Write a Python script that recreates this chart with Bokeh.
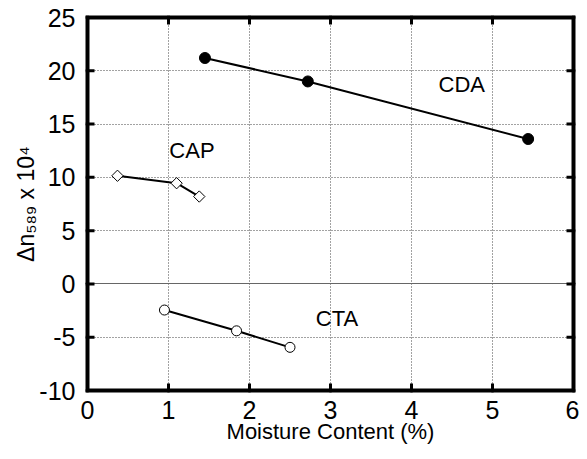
from bokeh.plotting import figure
from bokeh.models import FixedTicker, Range1d, ColumnDataSource
from bokeh.embed import file_html
from bokeh.resources import INLINE

# data
cda_x = [1.45, 2.72, 5.44]
cda_y = [21.2, 19.0, 13.6]
cap_x = [0.37, 1.10, 1.38]
cap_y = [10.15, 9.45, 8.2]
cta_x = [0.95, 1.84, 2.50]
cta_y = [-2.45, -4.4, -5.95]
series_names = ["CDA", "CAP", "CTA"]
name_x = [4.62, 1.29, 3.08]
name_y = [18.7, 12.5, -3.2]
zero_line = [0]
x_ticks = [0, 1, 2, 3, 4, 5, 6]
y_ticks = [-10, -5, 0, 5, 10, 15, 20, 25]

# layout (pixels)
W, H = 579, 451
BL, BR, BT, BB = 85, 4, 15, 59
FW, FH = W - BL - BR, H - BT - BB
EDGE = 2          # px between frame edge and first/last tick
TICK = 9          # inward tick length from frame edge, px

ux = (x_ticks[-1] - x_ticks[0]) / (FW - 2 * EDGE)
uy = (y_ticks[-1] - y_ticks[0]) / (FH - 2 * EDGE)
x_lo, x_hi = x_ticks[0] - EDGE * ux, x_ticks[-1] + EDGE * ux
y_lo, y_hi = y_ticks[0] - EDGE * uy, y_ticks[-1] + EDGE * uy

p = figure(width=W, height=H, output_backend="svg", toolbar_location=None,
           x_range=Range1d(x_lo, x_hi), y_range=Range1d(y_lo, y_hi),
           min_border_left=BL, min_border_top=BT, min_border_right=BR, min_border_bottom=BB)
p.outline_line_color = None

p.xaxis.ticker = FixedTicker(ticks=x_ticks)
p.yaxis.ticker = FixedTicker(ticks=y_ticks)
p.yaxis.major_label_overrides = {t: str(t) for t in y_ticks}
p.xaxis.axis_label = "Moisture Content (%)"
p.yaxis.axis_label = "\u0394n\u2085\u2088\u2089 x 10\u2074"

for ax in [p.xaxis[0], p.yaxis[0]]:
    ax.axis_label_text_font_size = "22px"
    ax.axis_label_text_font_style = "normal"
    ax.axis_label_text_color = "black"
    ax.axis_label_standoff = -3
    ax.major_label_text_font_size = "25px"
    ax.major_label_text_color = "black"
    ax.major_tick_in = 0
    ax.major_tick_out = 0
    ax.major_tick_line_color = None
    ax.minor_tick_line_color = None
    ax.axis_line_color = None
p.xaxis.major_label_standoff = 8
p.yaxis.major_label_standoff = 10
p.yaxis.axis_label_text_font_size = "23px"

p.xgrid.ticker = FixedTicker(ticks=x_ticks)
p.ygrid.ticker = FixedTicker(ticks=y_ticks)
for g in [p.xgrid[0], p.ygrid[0]]:
    g.grid_line_color = "#444444"
    g.grid_line_dash = "1 2"
    g.grid_line_width = 1

p.hspan(y=zero_line, line_color="#666666", line_width=1.2)

# frame border and inward ticks on all four sides
p.quad(left=[x_lo], right=[x_hi], bottom=[y_lo], top=[y_hi], fill_color=None,
       line_color="black", line_width=8, line_join="miter")
nx, ny = len(x_ticks), len(y_ticks)
p.segment(x0=x_ticks, x1=x_ticks, y0=[y_lo] * nx, y1=[y_lo + TICK * uy] * nx,
          line_color="black", line_width=3)
p.segment(x0=x_ticks, x1=x_ticks, y0=[y_hi] * nx, y1=[y_hi - TICK * uy] * nx,
          line_color="black", line_width=3)
p.segment(x0=[x_lo] * ny, x1=[x_lo + TICK * ux] * ny, y0=y_ticks, y1=y_ticks,
          line_color="black", line_width=3)
p.segment(x0=[x_hi] * ny, x1=[x_hi - TICK * ux] * ny, y0=y_ticks, y1=y_ticks,
          line_color="black", line_width=3)

# series
p.line(cda_x, cda_y, line_color="black", line_width=2)
p.scatter(cda_x, cda_y, marker="circle", size=11, fill_color="black", line_color="black")
p.line(cap_x, cap_y, line_color="black", line_width=2)
p.scatter(cap_x, cap_y, marker="square", angle=0.7854, size=8, fill_color="white",
          line_color="black", line_width=1)
p.line(cta_x, cta_y, line_color="black", line_width=2)
p.scatter(cta_x, cta_y, marker="circle", size=10, fill_color="white", line_color="black", line_width=1)

src = ColumnDataSource(dict(x=name_x, y=name_y, t=series_names))
p.text(x="x", y="y", text="t", source=src, text_font_size="22px",
       text_align="center", text_baseline="middle", text_color="black")

open("out.html", "w").write(file_html(p, INLINE))
